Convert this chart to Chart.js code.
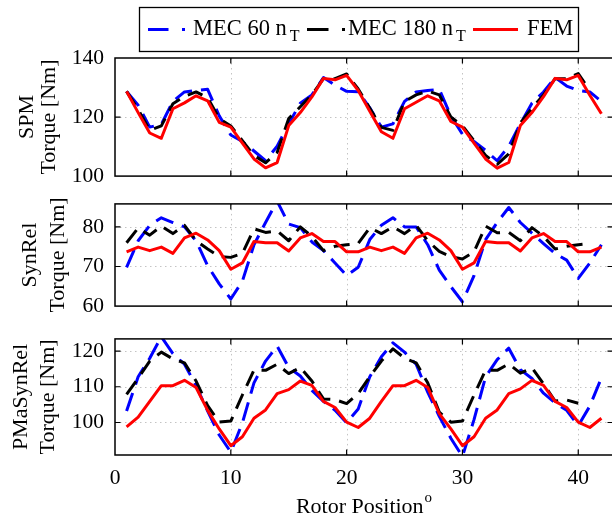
<!DOCTYPE html>
<html>
<head>
<meta charset="utf-8">
<script src="https://cdn.jsdelivr.net/npm/chart.js@4.4.1/dist/chart.umd.min.js"></script>
<style>
  html, body { margin: 0; padding: 0; width: 612px; height: 515px; overflow: hidden; background: #fff; }
  canvas { position: absolute; left: 0; }
</style>
</head>
<body>
<canvas id="spm" width="616" height="200" style="top:0px"></canvas>
<canvas id="synrel" width="616" height="150" style="top:180px"></canvas>
<canvas id="pmasynrel" width="616" height="200" style="top:315px"></canvas>
<script>
// Rotor position in degrees
const positions = [1,2,3,4,5,6,7,8,9,10,11,12,13,14,15,16,17,18,19,20,21,22,23,24,25,26,27,28,29,30,31,32,33,34,35,36,37,38,39,40,41,42];

// SPM machine torque [Nm]
const spmMec60  = [128.7,124.0,116.6,117.5,125.3,128.5,129.0,129.4,120.4,113.9,111.7,108.5,105.2,110.1,117.7,124.7,127.5,133.4,130.8,128.7,128.6,123.1,116.6,117.7,125.3,128.5,129.0,129.4,120.4,114.2,111.7,108.7,105.2,110.1,117.7,124.7,128.5,133.4,130.5,129.0,128.5,125.3];
const spmMec180 = [128.7,122.5,115.5,117.0,124.5,127.0,128.5,126.5,119.5,117.0,112.0,107.0,104.5,108.0,119.5,123.5,127.5,133.0,133.0,134.6,129.5,123.0,116.5,115.5,125.3,127.5,128.8,127.5,120.0,117.0,112.0,107.0,104.0,107.5,118.0,123.0,127.5,133.0,133.0,134.7,129.0,null];
const spmFem    = [128.7,121.5,114.6,112.8,122.8,124.8,127.2,125.5,118.2,116.6,111.2,105.8,102.8,104.6,117.1,121.5,126.8,133.1,132.6,134.1,129.0,122.0,115.0,112.8,122.8,125.0,127.2,125.5,118.5,116.6,111.2,105.8,102.7,104.6,117.1,121.5,126.9,133.1,132.6,134.1,127.4,121.1];

// SynRel machine torque [Nm]
const synMec60  = [69.8,76.5,80.4,82.3,81.1,80.0,76.5,70.2,65.6,61.8,66.3,75.5,81.1,86.5,80.7,79.8,76.2,74.0,70.9,67.7,69.8,76.8,80.4,82.3,80.0,80.0,75.5,69.1,64.9,61.1,67.7,76.8,81.1,84.9,81.1,78.4,75.8,73.3,71.6,67.0,70.9,75.5];
const synMec180 = [76.0,79.7,77.9,80.2,78.3,80.4,76.5,74.4,72.5,72.3,73.3,79.5,78.6,79.0,76.5,80.0,77.6,74.0,75.1,75.5,75.8,79.8,78.3,80.0,78.3,80.4,76.5,73.8,72.5,71.9,73.7,80.2,78.5,78.6,76.5,79.8,77.6,74.4,75.1,75.5,75.8,null];
const synFem    = [73.7,74.9,74.0,74.9,73.3,77.2,78.4,76.7,74.0,69.3,70.9,76.3,76.0,76.0,73.9,77.2,78.3,76.3,76.3,73.7,73.7,74.9,74.0,74.9,73.3,77.2,78.4,76.7,74.0,69.3,70.9,76.3,76.0,76.0,73.9,77.2,78.3,76.3,76.3,73.7,73.7,74.9];

// PMaSynRel machine torque [Nm]
const pmaMec60  = [103.2,112.8,118.0,124.0,119.3,116.3,110.3,103.2,96.5,91.7,99.9,111.1,117.2,121.4,115.4,113.0,109.0,105.9,103.4,99.9,103.8,112.8,118.4,122.3,119.7,116.3,108.5,101.7,95.6,90.5,100.8,112.8,117.6,120.8,114.8,112.3,108.2,105.5,103.4,99.1,104.6,112.5];
const pmaMec180 = [107.9,112.4,117.2,119.7,117.8,116.7,111.6,104.7,100.1,100.4,107.7,114.7,114.6,116.3,113.7,115.4,111.6,106.6,106.4,105.3,108.1,112.8,117.2,120.6,118.0,116.7,111.1,102.9,100.1,100.4,107.7,114.7,114.6,116.4,113.8,115.3,110.8,106.0,106.3,105.4,null,null];
const pmaFem    = [98.8,101.5,105.9,110.3,110.3,111.8,109.8,103.4,98.2,93.5,96.0,101.2,103.5,108.1,109.2,111.6,110.4,105.9,104.2,100.1,98.6,101.2,105.9,110.3,110.3,111.8,109.8,102.5,98.2,93.5,96.0,101.2,103.5,108.1,109.4,111.8,110.4,105.9,104.2,100.1,98.6,101.2];

// Tick values
const xTicks   = [0, 10, 20, 30, 40];
const spmTicks = [100, 120, 140];
const synTicks = [60, 70, 80];
const pmaTicks = [100, 110, 120];

// Series names
const seriesNames = ['MEC 60 n', 'MEC 180 n', 'FEM'];
const xTitle = 'Rotor Position';

const SERIF = '"Liberation Serif", "Times New Roman", serif';

function pts(vals) {
  return positions.map((p, i) => ({ x: p, y: vals[i] }));
}

// dotted grid inside the plot box
const gridPlugin = {
  id: 'dotGrid',
  beforeDatasetsDraw(chart) {
    const { ctx, chartArea: { left, right, top, bottom }, scales: { x, y } } = chart;
    ctx.save();
    ctx.strokeStyle = '#c4c4c4';
    ctx.lineWidth = 1;
    ctx.setLineDash([1.5, 3.5]);
    ctx.beginPath();
    xTicks.forEach(v => {
      const px = Math.round(x.getPixelForValue(v)) + 0.5;
      if (px > left + 2 && px < right - 2) { ctx.moveTo(px, top); ctx.lineTo(px, bottom); }
    });
    y.ticks.forEach(t => {
      const py = Math.round(y.getPixelForValue(t.value)) + 0.5;
      if (py > top + 2 && py < bottom - 2) { ctx.moveTo(left, py); ctx.lineTo(right, py); }
    });
    ctx.stroke();
    ctx.restore();
  }
};

// box around the axes with inward tick marks
const framePlugin = {
  id: 'boxFrame',
  afterDatasetsDraw(chart) {
    const { ctx, chartArea: { left, right, top, bottom }, scales: { x, y } } = chart;
    const tl = 5.5;
    ctx.save();
    ctx.strokeStyle = '#000';
    ctx.lineWidth = 1.5;
    ctx.strokeRect(left, top, right - left, bottom - top);
    ctx.lineWidth = 1.2;
    ctx.beginPath();
    xTicks.forEach(v => {
      const px = x.getPixelForValue(v);
      if (px > left + 2 && px < right - 2) {
        ctx.moveTo(px, bottom); ctx.lineTo(px, bottom - tl);
        ctx.moveTo(px, top); ctx.lineTo(px, top + tl);
      }
    });
    y.ticks.forEach(t => {
      const py = y.getPixelForValue(t.value);
      if (py > top + 2 && py < bottom - 2) {
        ctx.moveTo(left, py); ctx.lineTo(left + tl, py);
        ctx.moveTo(right, py); ctx.lineTo(right - tl, py);
      }
    });
    ctx.stroke();
    ctx.restore();
  }
};

// legend box above the first panel
const legendPlugin = {
  id: 'topLegend',
  afterDraw(chart) {
    const ctx = chart.ctx;
    ctx.save();
    ctx.strokeStyle = '#000';
    ctx.lineWidth = 1.3;
    ctx.strokeRect(139.5, 7.5, 439, 44);
    const ly = 29.5;
    ctx.lineWidth = 3;
    ctx.lineCap = 'butt';
    const seg = (color, parts) => {
      ctx.strokeStyle = color;
      ctx.beginPath();
      parts.forEach(([a, b]) => { ctx.moveTo(a, ly); ctx.lineTo(b, ly); });
      ctx.stroke();
    };
    seg('#0000ff', [[148, 168.5], [182, 185]]);
    seg('#000000', [[307, 328.5], [342, 345]]);
    seg('#ff0000', [[473, 518]]);
    ctx.fillStyle = '#000';
    ctx.textBaseline = 'alphabetic';
    ctx.textAlign = 'left';
    const sub = (label, x0) => {
      ctx.font = '22.5px ' + SERIF;
      ctx.fillText(label, x0, 34.5);
      const w = ctx.measureText(label).width;
      ctx.font = '16px ' + SERIF;
      ctx.fillText('T', x0 + w + 3, 40.5);
    };
    sub(seriesNames[0], 193);
    sub(seriesNames[1], 348);
    ctx.font = '22.5px ' + SERIF;
    ctx.fillText(seriesNames[2], 527, 34.5);
    ctx.restore();
  }
};

// x axis title with superscript degree mark
const xTitlePlugin = {
  id: 'xTitle',
  afterDraw(chart) {
    const { ctx, chartArea: { left, right } } = chart;
    ctx.save();
    ctx.fillStyle = '#000';
    ctx.textBaseline = 'alphabetic';
    ctx.textAlign = 'left';
    ctx.font = '22px ' + SERIF;
    const w1 = ctx.measureText(xTitle).width;
    ctx.font = '15px ' + SERIF;
    const w2 = ctx.measureText('o').width;
    const x0 = (left + right) / 2 - (w1 + 1 + w2) / 2;
    ctx.font = '22px ' + SERIF;
    ctx.fillText(xTitle, x0, 197.5);
    ctx.font = '15px ' + SERIF;
    ctx.fillText('o', x0 + w1 + 1, 187);
    ctx.restore();
  }
};

function makePanel(id, cfg) {
  const datasets = [
    { label: 'MEC 60', data: pts(cfg.mec60), borderColor: '#0000ff', borderWidth: 3, borderDash: [19, 9], order: 3 },
    { label: 'MEC 180', data: pts(cfg.mec180), borderColor: '#000000', borderWidth: 3, borderDash: [16, 9], order: 2 },
    { label: 'FEM', data: pts(cfg.fem), borderColor: '#ff0000', borderWidth: 3, order: 1 }
  ].map(d => Object.assign(d, {
    pointRadius: 0, pointHoverRadius: 0, tension: 0, fill: false,
    borderJoinStyle: 'round', clip: 0, spanGaps: false
  }));

  const plugins = [gridPlugin, framePlugin].concat(cfg.extra || []);

  return new Chart(document.getElementById(id), {
    type: 'line',
    data: { datasets },
    options: {
      responsive: false,
      animation: false,
      events: [],
      layout: { padding: { left: 0, right: 3, top: cfg.padTop, bottom: cfg.padBottom } },
      plugins: { legend: { display: false }, tooltip: { enabled: false } },
      scales: {
        x: {
          type: 'linear',
          min: 0, max: 43,
          display: cfg.showX,
          afterBuildTicks: s => { s.ticks = xTicks.map(v => ({ value: v })); },
          afterFit: s => { if (cfg.showX) s.height = 60; },
          grid: { display: false, drawTicks: false },
          border: { display: false },
          ticks: { color: '#000', padding: 13, maxRotation: 0, autoSkip: false, font: { family: SERIF, size: 21.5, lineHeight: 1 } }
        },
        y: {
          type: 'linear',
          min: cfg.min, max: cfg.max,
          afterBuildTicks: s => { s.ticks = cfg.ticks.map(v => ({ value: v })); },
          afterFit: s => { s.width = 115; },
          grid: { display: false, drawTicks: false },
          border: { display: false },
          ticks: { color: '#000', padding: 11, autoSkip: false, font: { family: SERIF, size: 21.5 } },
          title: {
            display: true,
            text: cfg.title,
            color: '#000',
            font: { family: SERIF, size: 22, lineHeight: cfg.titleLine },
            padding: { top: cfg.titlePad, bottom: 0 }
          }
        }
      }
    },
    plugins
  });
}

makePanel('spm', {
  mec60: spmMec60, mec180: spmMec180, fem: spmFem,
  min: 100, max: 140, ticks: spmTicks,
  title: ['SPM', 'Torque [Nm]'], titlePad: 16, titleLine: '22px',
  padTop: 58, padBottom: 19, showX: false,
  extra: [legendPlugin]
});

makePanel('synrel', {
  mec60: synMec60, mec180: synMec180, fem: synFem,
  min: 60, max: 85.8, ticks: synTicks,
  title: ['SynRel', 'Torque [Nm]'], titlePad: 16.5, titleLine: '27.5px',
  padTop: 14.3, padBottom: 13.3, showX: false
});

makePanel('pmasynrel', {
  mec60: pmaMec60, mec180: pmaMec180, fem: pmaFem,
  min: 90.9, max: 123.4, ticks: pmaTicks,
  title: ['PMaSynRel', 'Torque [Nm]'], titlePad: 7, titleLine: '27.5px',
  padTop: 14.3, padBottom: 0, showX: true,
  extra: [xTitlePlugin]
});
</script>
</body>
</html>
